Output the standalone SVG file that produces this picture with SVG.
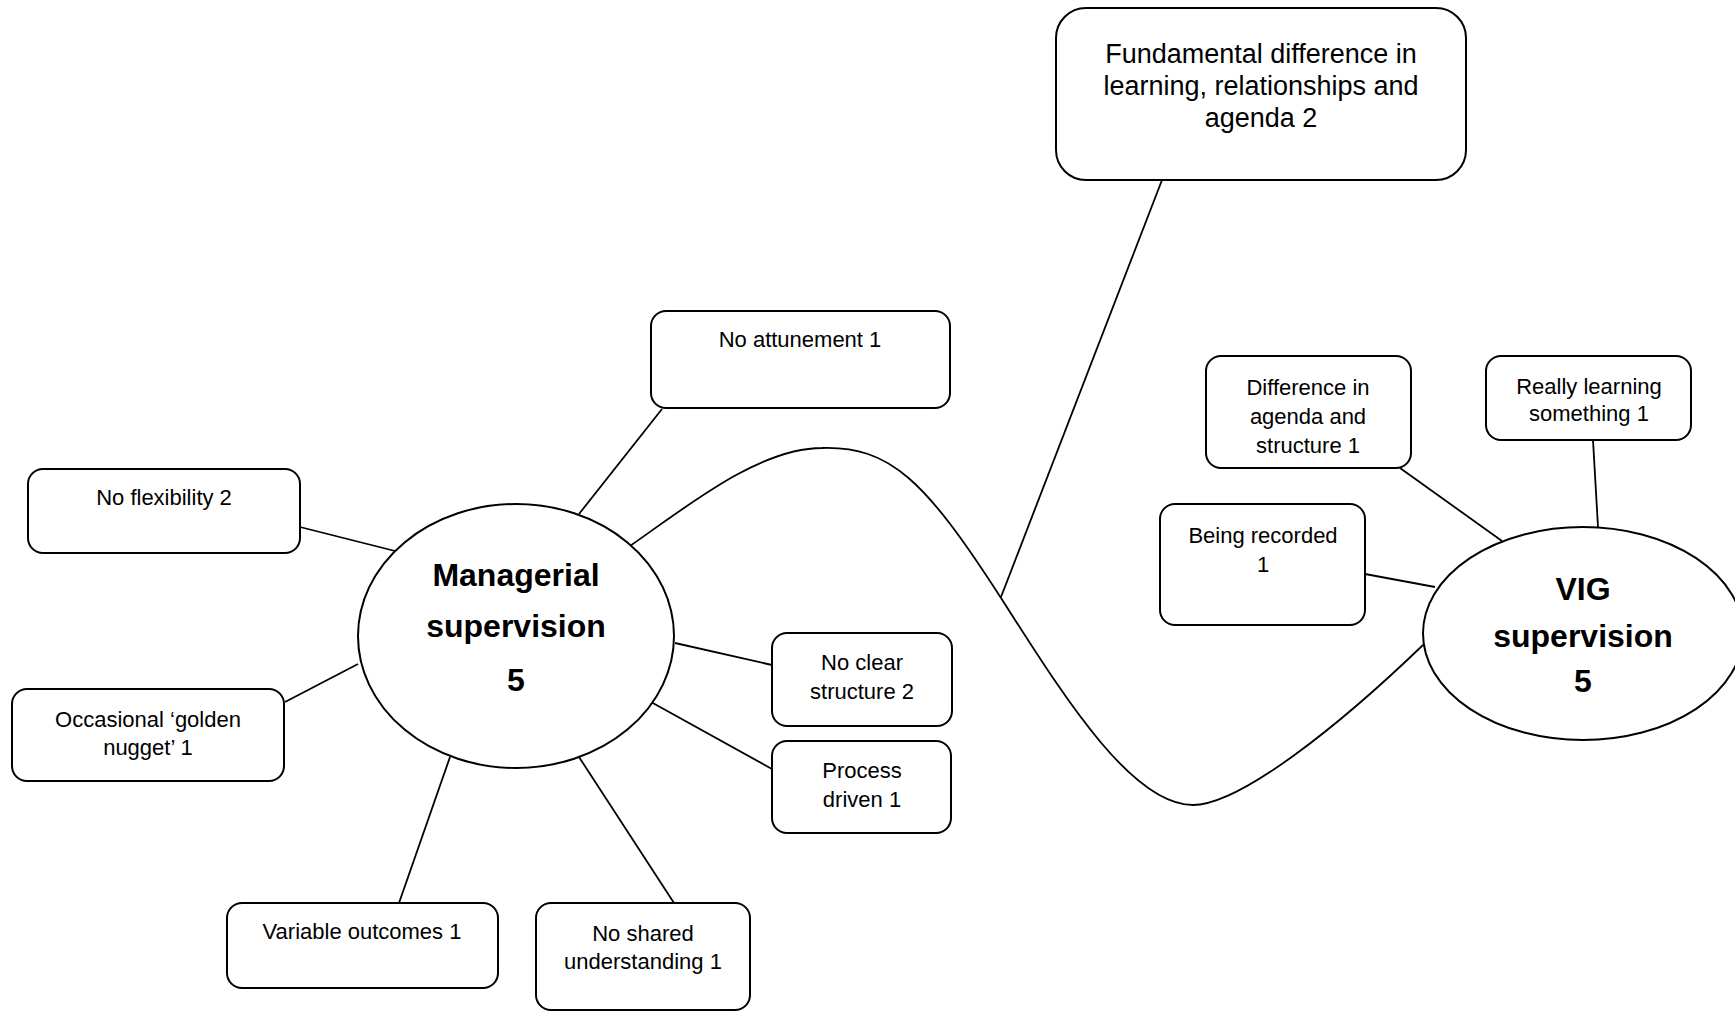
<svg xmlns="http://www.w3.org/2000/svg" width="1735" height="1012" viewBox="0 0 1735 1012">
<style>
.box{fill:#fff;stroke:#000;stroke-width:2}
.ell{fill:#fff;stroke:#000;stroke-width:2}
.ln{fill:none;stroke:#000;stroke-width:1.8}
.t{font-family:"Liberation Sans",Arial,sans-serif;font-size:22px;fill:#000;text-anchor:middle}
.tb{font-family:"Liberation Sans",Arial,sans-serif;font-size:32px;font-weight:bold;fill:#000;text-anchor:middle}
.tl{font-family:"Liberation Sans",Arial,sans-serif;font-size:27px;fill:#000;text-anchor:middle}
</style>
<rect width="1735" height="1012" fill="#fff"/>
<g id="connectors">
<line class="ln" x1="662" y1="409" x2="579" y2="514"/>
<line class="ln" x1="300" y1="527" x2="399" y2="552"/>
<line class="ln" x1="285" y1="702" x2="358" y2="664"/>
<line class="ln" x1="675" y1="643" x2="772" y2="665"/>
<line class="ln" x1="651" y1="702" x2="772" y2="769"/>
<line class="ln" x1="399" y1="903" x2="450" y2="757"/>
<line class="ln" x1="674" y1="903" x2="579" y2="757"/>
<line class="ln" x1="1162" y1="180" x2="1001" y2="597"/>
<path class="ln" d="M630,546 C690,504 760,448 822,448 C890,446 925,480 1001,598 C1060,690 1130,805 1193,805 C1240,805 1340,725 1423,645"/>
<line class="ln" x1="1400" y1="468" x2="1502" y2="541"/>
<line class="ln" x1="1593" y1="440" x2="1598" y2="527"/>
<line class="ln" x1="1365" y1="574" x2="1435" y2="587"/>
</g>
<g id="managerial">
<ellipse class="ell" cx="516" cy="636" rx="158" ry="132"/>
<text class="tb" x="516" y="586">Managerial</text>
<text class="tb" x="516" y="637">supervision</text>
<text class="tb" x="516" y="691">5</text>
</g>
<g id="vig">
<ellipse class="ell" cx="1583" cy="633.5" rx="160" ry="106.5"/>
<text class="tb" x="1583" y="600">VIG</text>
<text class="tb" x="1583" y="647">supervision</text>
<text class="tb" x="1583" y="692">5</text>
</g>
<g id="fundamental">
<rect class="box" x="1056" y="8" width="410" height="172" rx="30"/>
<text class="tl" x="1261" y="63">Fundamental difference in</text>
<text class="tl" x="1261" y="95">learning, relationships and</text>
<text class="tl" x="1261" y="127">agenda 2</text>
</g>
<g id="no-attunement">
<rect class="box" x="651" y="311" width="299" height="97" rx="15"/>
<text class="t" x="800" y="347">No attunement 1</text>
</g>
<g id="no-flexibility">
<rect class="box" x="28" y="469" width="272" height="84" rx="15"/>
<text class="t" x="164" y="505">No flexibility 2</text>
</g>
<g id="golden-nugget">
<rect class="box" x="12" y="689" width="272" height="92" rx="15"/>
<text class="t" x="148" y="727">Occasional ‘golden</text>
<text class="t" x="148" y="755">nugget’ 1</text>
</g>
<g id="no-clear-structure">
<rect class="box" x="772" y="633" width="180" height="93" rx="15"/>
<text class="t" x="862" y="670">No clear</text>
<text class="t" x="862" y="699">structure 2</text>
</g>
<g id="process-driven">
<rect class="box" x="772" y="741" width="179" height="92" rx="15"/>
<text class="t" x="862" y="778">Process</text>
<text class="t" x="862" y="807">driven 1</text>
</g>
<g id="variable-outcomes">
<rect class="box" x="227" y="903" width="271" height="85" rx="15"/>
<text class="t" x="362" y="939">Variable outcomes 1</text>
</g>
<g id="no-shared-understanding">
<rect class="box" x="536" y="903" width="214" height="107" rx="15"/>
<text class="t" x="643" y="941">No shared</text>
<text class="t" x="643" y="969">understanding 1</text>
</g>
<g id="difference-agenda">
<rect class="box" x="1206" y="356" width="205" height="112" rx="15"/>
<text class="t" x="1308" y="395">Difference in</text>
<text class="t" x="1308" y="424">agenda and</text>
<text class="t" x="1308" y="453">structure 1</text>
</g>
<g id="really-learning">
<rect class="box" x="1486" y="356" width="205" height="84" rx="15"/>
<text class="t" x="1589" y="394">Really learning</text>
<text class="t" x="1589" y="421">something 1</text>
</g>
<g id="being-recorded">
<rect class="box" x="1160" y="504" width="205" height="121" rx="15"/>
<text class="t" x="1263" y="543">Being recorded</text>
<text class="t" x="1263" y="572">1</text>
</g>
</svg>
